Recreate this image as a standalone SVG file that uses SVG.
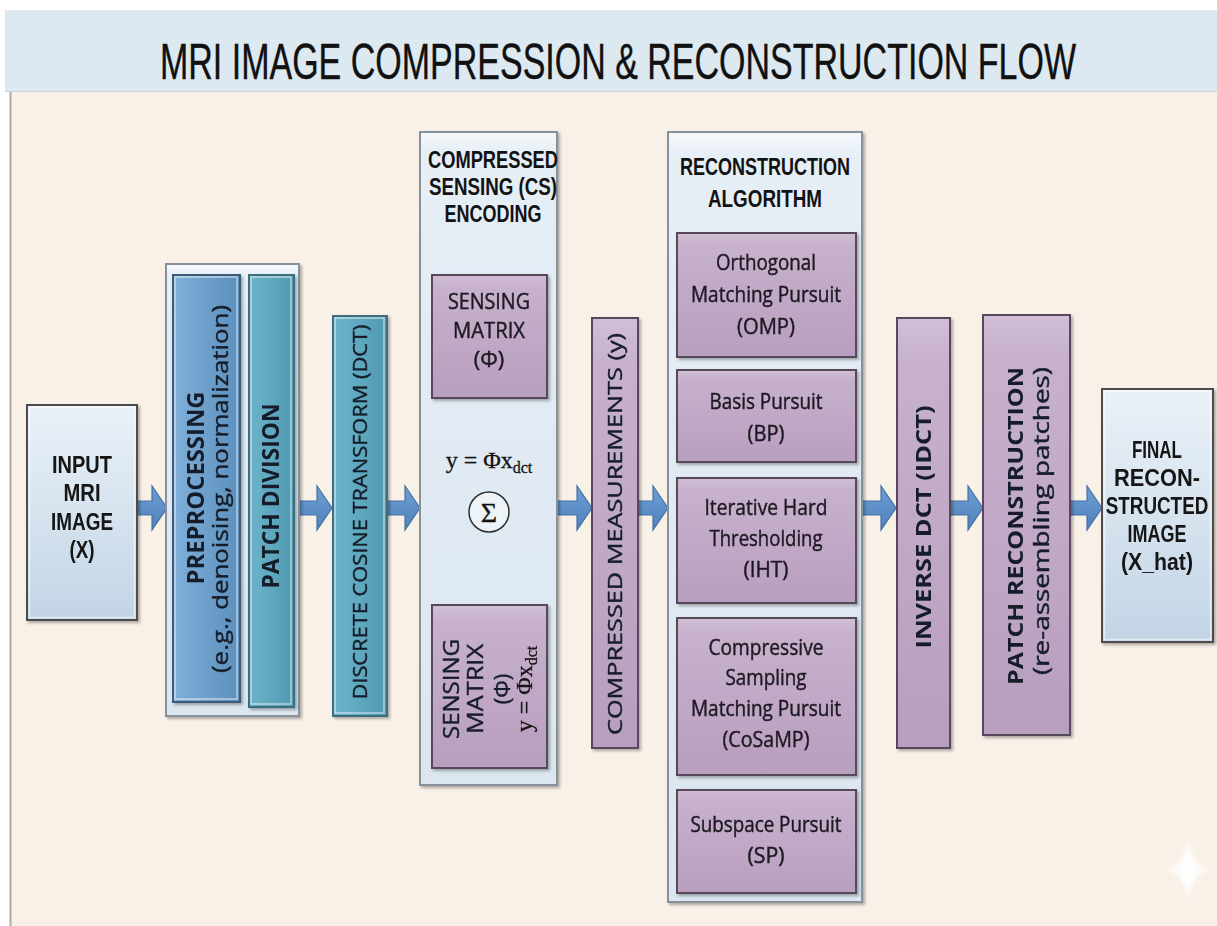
<svg xmlns="http://www.w3.org/2000/svg" width="1217" height="926" viewBox="0 0 1217 926">
  <style>
    .cond { font-family: "Liberation Sans", Arial, sans-serif; font-weight: bold; fill: #121212; }
    .title { font-family: "Liberation Sans", Arial, sans-serif; font-weight: normal; fill: #111111; stroke: #111111; stroke-width: 0.4; }
    .body { font-family: "Open Sans", "Liberation Sans", Arial, sans-serif; fill: #1f1a23; stroke: #1f1a23; stroke-width: 0.45; }
    .vt { font-family: "Open Sans", "DejaVu Sans", sans-serif; fill: #161e29; stroke: #161e29; stroke-width: 0.4; }
    .vtb { font-family: "Open Sans", "DejaVu Sans", sans-serif; font-weight: bold; fill: #161e29; }
    .math { font-family: "Liberation Serif", "Times New Roman", serif; fill: #141414; stroke: #141414; stroke-width: 0.3; }
    .frame { fill: url(#gFrame); stroke: #86919b; stroke-width: 2; }
    .lblue { fill: url(#gLBlue); stroke: #4e4e4e; stroke-width: 2; }
    .blue { fill: url(#gBlue); stroke: #3d5b78; stroke-width: 2; }
    .teal { fill: url(#gTeal); stroke: #3c6e7e; stroke-width: 2; }
    .purple { fill: url(#gPurple); stroke: #554a5a; stroke-width: 2; }
    .arrow { fill: url(#gArrow); stroke: #4572a6; stroke-width: 1.2; }
    .hl { fill: none; stroke: #ffffff; stroke-opacity: 0.55; stroke-width: 1.5; }
  </style>
  <defs>
    <linearGradient id="gFrame" x1="0" y1="0" x2="0" y2="1">
      <stop offset="0" stop-color="#f6f9fc"/>
      <stop offset="0.03" stop-color="#e6eef6"/>
      <stop offset="1" stop-color="#dbe6ef"/>
    </linearGradient>
    <linearGradient id="gLBlue" x1="0" y1="0" x2="0" y2="1">
      <stop offset="0" stop-color="#eaf1f8"/>
      <stop offset="0.5" stop-color="#d6e3ef"/>
      <stop offset="1" stop-color="#c2d4e5"/>
    </linearGradient>
    <linearGradient id="gBlue" x1="0" y1="0" x2="1" y2="0">
      <stop offset="0" stop-color="#80b0da"/>
      <stop offset="0.5" stop-color="#6d9fcb"/>
      <stop offset="1" stop-color="#5d8fbd"/>
    </linearGradient>
    <linearGradient id="gTeal" x1="0" y1="0" x2="1" y2="0">
      <stop offset="0" stop-color="#6cb4ca"/>
      <stop offset="0.5" stop-color="#5ea8bf"/>
      <stop offset="1" stop-color="#4f98af"/>
    </linearGradient>
    <linearGradient id="gPurple" x1="0" y1="0" x2="0" y2="1">
      <stop offset="0" stop-color="#d2bed7"/>
      <stop offset="0.1" stop-color="#c7b1cc"/>
      <stop offset="1" stop-color="#b89ebf"/>
    </linearGradient>
    <linearGradient id="gArrow" x1="0" y1="0" x2="0" y2="1">
      <stop offset="0" stop-color="#6d9fd4"/>
      <stop offset="1" stop-color="#4f82bb"/>
    </linearGradient>
    <filter id="shadow" x="-10%" y="-5%" width="125%" height="115%">
      <feDropShadow dx="2" dy="2" stdDeviation="1.5" flood-color="#000" flood-opacity="0.3"/>
    </filter>
    <filter id="soft" x="-50%" y="-50%" width="200%" height="200%">
      <feGaussianBlur stdDeviation="2"/>
    </filter>
    <marker id="tip" viewBox="0 0 10 10" refX="9" refY="5" markerWidth="5" markerHeight="5" orient="auto">
      <path d="M0,0 L10,5 L0,10 Z" fill="#4a7bb3"/>
    </marker>
  </defs>

  <!-- page background -->
  <rect x="0" y="0" width="1217" height="926" fill="#ffffff"/>
  <rect x="10" y="92" width="1207" height="834" fill="#f9f0e7"/>
  <line x1="10.5" y1="92" x2="10.5" y2="926" stroke="#a9a9a9" stroke-width="2"/>

  <!-- heading band -->
  <g id="title">
    <rect x="5" y="10" width="1212" height="82" fill="#dde9f1"/>
    <line x1="5" y1="91.5" x2="1217" y2="91.5" stroke="#c9d6df" stroke-width="1"/>
    <text class="title" font-size="50" text-anchor="middle" transform="translate(618,79) scale(0.68,1)">MRI IMAGE COMPRESSION &amp; RECONSTRUCTION FLOW</text>
  </g>

  <!-- block arrows and small signal arrows -->
  <g id="connectors">
    <path class="arrow" d="M137,501 H152 V486 L167,508 L152,530 V515 H137 Z"/>
    <path class="arrow" d="M297,501 H317 V486 L332,508 L317,530 V515 H297 Z"/>
    <path class="arrow" d="M387,501 H405 V486 L420,508 L405,530 V515 H387 Z"/>
    <path class="arrow" d="M557,501 H577 V486 L592,508 L577,530 V515 H557 Z"/>
    <path class="arrow" d="M638,501 H653 V486 L668,508 L653,530 V515 H638 Z"/>
    <path class="arrow" d="M862,501 H881 V486 L896,508 L881,530 V515 H862 Z"/>
    <path class="arrow" d="M950,501 H968 V486 L983,508 L968,530 V515 H950 Z"/>
    <path class="arrow" d="M1070,501 H1087 V486 L1102,508 L1087,530 V515 H1070 Z"/>
    <!-- equation feed into the summing junction -->
    <line x1="489" y1="475" x2="489" y2="491" stroke="#4a7bb3" stroke-width="1.5" marker-end="url(#tip)"/>
    <!-- lower sensing matrix feed into the summing junction -->
    <line x1="489" y1="605" x2="489" y2="533" stroke="#4a7bb3" stroke-width="1.5" marker-end="url(#tip)"/>
  </g>

  <g id="input-image" filter="url(#shadow)">
    <rect class="lblue" x="27" y="405" width="110" height="215"/>
    <rect class="hl" x="29.5" y="407.5" width="105" height="210"/>
    <g class="cond" font-size="23" text-anchor="middle">
      <text x="82" y="473" textLength="60" lengthAdjust="spacingAndGlyphs">INPUT</text>
      <text x="82" y="501" textLength="37" lengthAdjust="spacingAndGlyphs">MRI</text>
      <text x="82" y="530" textLength="62" lengthAdjust="spacingAndGlyphs">IMAGE</text>
      <text x="82" y="558" textLength="25" lengthAdjust="spacingAndGlyphs">(X)</text>
    </g>
  </g>

  <g id="preprocessing-group">
    <rect class="frame" x="166" y="264" width="133" height="452" filter="url(#shadow)"/>
    <g id="preprocessing" filter="url(#shadow)">
      <rect class="blue" x="173" y="275" width="67" height="427"/>
      <rect class="hl" x="175" y="277" width="62" height="422"/>
      <text class="vtb" font-size="23" text-anchor="middle" transform="translate(196,488) rotate(-90)" y="8" textLength="193" lengthAdjust="spacingAndGlyphs">PREPROCESSING</text>
      <text class="vt" font-size="22" text-anchor="middle" transform="translate(222,489) rotate(-90)" y="6" textLength="368" lengthAdjust="spacingAndGlyphs">(e.g., denoising, normalization)</text>
    </g>
    <g id="patch-division" filter="url(#shadow)">
      <rect class="teal" x="249" y="275" width="45" height="432"/>
      <rect class="hl" x="251" y="277" width="40" height="427"/>
      <text class="vtb" font-size="23" text-anchor="middle" transform="translate(271,496) rotate(-90)" y="8" textLength="185" lengthAdjust="spacingAndGlyphs">PATCH DIVISION</text>
    </g>
  </g>

  <g id="dct" filter="url(#shadow)">
    <rect class="teal" x="333" y="316" width="54" height="400"/>
    <rect class="hl" x="335" y="318" width="49" height="395"/>
    <text class="vt" font-size="20" text-anchor="middle" transform="translate(360,512) rotate(-90)" y="7" textLength="375" lengthAdjust="spacingAndGlyphs">DISCRETE COSINE TRANSFORM (DCT)</text>
  </g>

  <g id="cs-encoding">
    <rect class="frame" x="420" y="132" width="137" height="653" filter="url(#shadow)"/>
    <g class="cond" font-size="23" text-anchor="middle">
      <text x="493" y="168" textLength="130" lengthAdjust="spacingAndGlyphs">COMPRESSED</text>
      <text x="493" y="195" textLength="128" lengthAdjust="spacingAndGlyphs">SENSING (CS)</text>
      <text x="493" y="222" textLength="97" lengthAdjust="spacingAndGlyphs">ENCODING</text>
    </g>
    <g id="sensing-matrix" filter="url(#shadow)">
      <rect class="purple" x="432" y="275" width="115" height="123"/>
      <g class="body" font-size="22" text-anchor="middle">
        <text x="489" y="309" textLength="82" lengthAdjust="spacingAndGlyphs">SENSING</text>
        <text x="489" y="338" textLength="72" lengthAdjust="spacingAndGlyphs">MATRIX</text>
        <text x="489" y="367">(Φ)</text>
      </g>
    </g>
    <text class="math" x="489" y="468" font-size="24" text-anchor="middle">y = Φx<tspan font-size="16" dy="5">dct</tspan></text>
    <g id="sum-junction">
      <circle cx="489" cy="512" r="20" fill="#eef3f8" stroke="#2e2e2e" stroke-width="1.5"/>
      <text class="math" x="489" y="522" font-size="28" text-anchor="middle">Σ</text>
    </g>
    <g id="sensing-matrix-eq" filter="url(#shadow)">
      <rect class="purple" x="432" y="605" width="115" height="163"/>
      <text class="vt" font-size="22" text-anchor="middle" transform="translate(451,689) rotate(-90)" y="8" textLength="100" lengthAdjust="spacingAndGlyphs">SENSING</text>
      <text class="vt" font-size="22" text-anchor="middle" transform="translate(475,689) rotate(-90)" y="8" textLength="90" lengthAdjust="spacingAndGlyphs">MATRIX</text>
      <text class="vt" font-size="22" text-anchor="middle" transform="translate(503,689) rotate(-90)" y="7">(Φ)</text>
      <text class="math" font-size="24" text-anchor="middle" transform="translate(528,689) rotate(-90)" y="4">y = Φx<tspan font-size="16" dy="5">dct</tspan></text>
    </g>
  </g>

  <g id="measurements" filter="url(#shadow)">
    <rect class="purple" x="592" y="318" width="46" height="430"/>
    <text class="vt" font-size="20" text-anchor="middle" transform="translate(615,534) rotate(-90)" y="7" textLength="402" lengthAdjust="spacingAndGlyphs">COMPRESSED MEASUREMENTS (y)</text>
  </g>

  <g id="reconstruction">
    <rect class="frame" x="668" y="132" width="194" height="770" filter="url(#shadow)"/>
    <g class="cond" font-size="23" text-anchor="middle">
      <text x="765" y="175" textLength="170" lengthAdjust="spacingAndGlyphs">RECONSTRUCTION</text>
      <text x="765" y="207" textLength="114" lengthAdjust="spacingAndGlyphs">ALGORITHM</text>
    </g>
    <g id="omp" filter="url(#shadow)">
      <rect class="purple" x="677" y="233" width="179" height="124"/>
      <g class="body" font-size="22" text-anchor="middle">
        <text x="766" y="270" textLength="100" lengthAdjust="spacingAndGlyphs">Orthogonal</text>
        <text x="766" y="302" textLength="150" lengthAdjust="spacingAndGlyphs">Matching Pursuit</text>
        <text x="766" y="334" textLength="58" lengthAdjust="spacingAndGlyphs">(OMP)</text>
      </g>
    </g>
    <g id="bp" filter="url(#shadow)">
      <rect class="purple" x="677" y="370" width="179" height="92"/>
      <g class="body" font-size="22" text-anchor="middle">
        <text x="766" y="409" textLength="113" lengthAdjust="spacingAndGlyphs">Basis Pursuit</text>
        <text x="766" y="441" textLength="37" lengthAdjust="spacingAndGlyphs">(BP)</text>
      </g>
    </g>
    <g id="iht" filter="url(#shadow)">
      <rect class="purple" x="677" y="478" width="179" height="125"/>
      <g class="body" font-size="22" text-anchor="middle">
        <text x="766" y="515" textLength="123" lengthAdjust="spacingAndGlyphs">Iterative Hard</text>
        <text x="766" y="546" textLength="113" lengthAdjust="spacingAndGlyphs">Thresholding</text>
        <text x="766" y="577" textLength="45" lengthAdjust="spacingAndGlyphs">(IHT)</text>
      </g>
    </g>
    <g id="cosamp" filter="url(#shadow)">
      <rect class="purple" x="677" y="618" width="179" height="157"/>
      <g class="body" font-size="22" text-anchor="middle">
        <text x="766" y="655" textLength="115" lengthAdjust="spacingAndGlyphs">Compressive</text>
        <text x="766" y="685" textLength="81" lengthAdjust="spacingAndGlyphs">Sampling</text>
        <text x="766" y="716" textLength="150" lengthAdjust="spacingAndGlyphs">Matching Pursuit</text>
        <text x="766" y="747" textLength="87" lengthAdjust="spacingAndGlyphs">(CoSaMP)</text>
      </g>
    </g>
    <g id="sp" filter="url(#shadow)">
      <rect class="purple" x="677" y="790" width="179" height="103"/>
      <g class="body" font-size="22" text-anchor="middle">
        <text x="766" y="832" textLength="151" lengthAdjust="spacingAndGlyphs">Subspace Pursuit</text>
        <text x="766" y="863" textLength="37" lengthAdjust="spacingAndGlyphs">(SP)</text>
      </g>
    </g>
  </g>

  <g id="inverse-dct" filter="url(#shadow)">
    <rect class="purple" x="897" y="318" width="53" height="430"/>
    <text class="vtb" font-size="21" text-anchor="middle" transform="translate(923,527) rotate(-90)" y="8" textLength="243" lengthAdjust="spacingAndGlyphs">INVERSE DCT (IDCT)</text>
  </g>

  <g id="patch-reconstruction" filter="url(#shadow)">
    <rect class="purple" x="983" y="315" width="87" height="420"/>
    <text class="vtb" font-size="22" text-anchor="middle" transform="translate(1015,526) rotate(-90)" y="8" textLength="318" lengthAdjust="spacingAndGlyphs">PATCH RECONSTRUCTION</text>
    <text class="vt" font-size="22" text-anchor="middle" transform="translate(1043,521) rotate(-90)" y="6" textLength="308" lengthAdjust="spacingAndGlyphs">(re-assembling patches)</text>
  </g>

  <g id="final-image" filter="url(#shadow)">
    <rect class="lblue" x="1102" y="389" width="111" height="253"/>
    <rect class="hl" x="1104.5" y="391.5" width="106" height="248"/>
    <g class="cond" font-size="23" text-anchor="middle">
      <text x="1157" y="458" textLength="50" lengthAdjust="spacingAndGlyphs">FINAL</text>
      <text x="1157" y="486" textLength="86" lengthAdjust="spacingAndGlyphs">RECON-</text>
      <text transform="translate(1157,514) scale(0.82,1)">STRUCTED</text>
      <text x="1157" y="542" textLength="59" lengthAdjust="spacingAndGlyphs">IMAGE</text>
      <text x="1157" y="570" textLength="72" lengthAdjust="spacingAndGlyphs">(X_hat)</text>
    </g>
  </g>

  <!-- faint four-point sparkle in the corner -->
  <path d="M1188,838 Q1191,866 1209,870 Q1191,874 1188,902 Q1185,874 1167,870 Q1185,866 1188,838 Z" fill="#ffffff" fill-opacity="0.9" filter="url(#soft)"/>
</svg>
